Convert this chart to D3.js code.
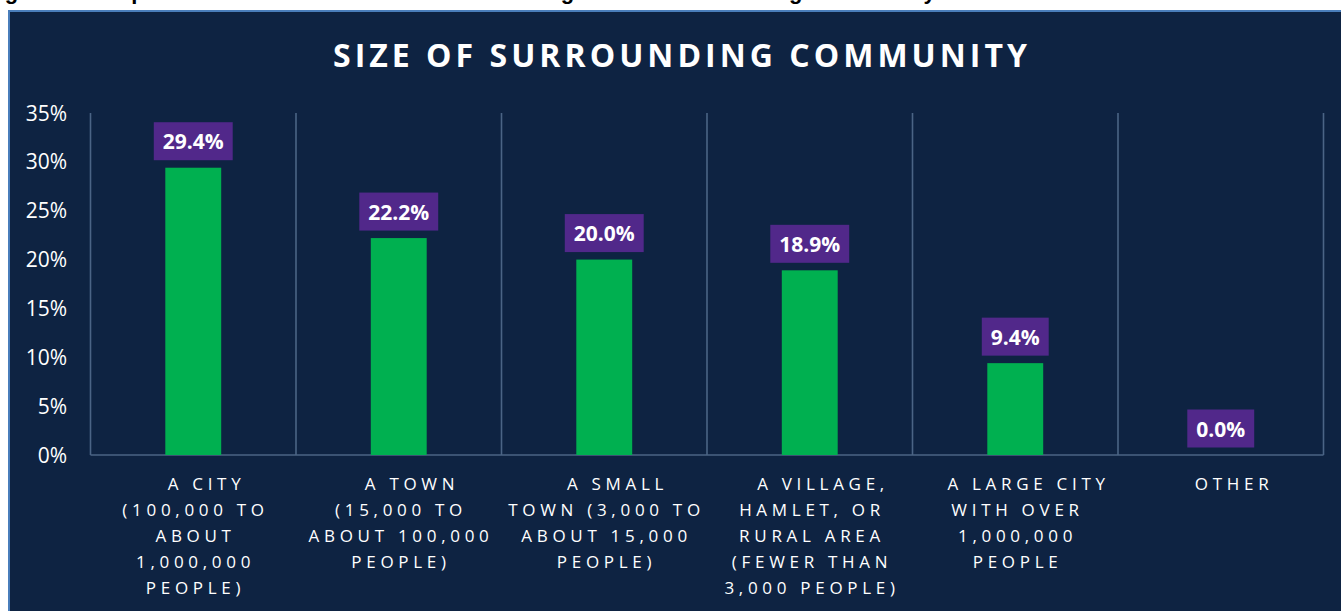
<!DOCTYPE html>
<head>
  <meta charset="utf-8">
  <script src="https://d3js.org/d3.v7.min.js"></script>
  <style>
    body { margin: 0; background: #ffffff; }
    svg { display: block; }
    .tick-label { fill: #ffffff; font: 21px "Open Sans", sans-serif; }
    .cat-label { fill: #ffffff; font: 17px "Open Sans", sans-serif; letter-spacing: 4.7px; }
    .value-label { fill: #ffffff; font: bold 21px "Open Sans", sans-serif; }
  </style>
</head>
<body>
<script>
  // data
  var categories = ["A City", "A Town", "A Small Town", "A Village", "A Large City", "Other"];
  var labelLines = [
    ["A CITY", "(100,000 TO", "ABOUT", "1,000,000", "PEOPLE)"],
    ["A TOWN", "(15,000 TO", "ABOUT 100,000", "PEOPLE)"],
    ["A SMALL", "TOWN (3,000 TO", "ABOUT 15,000", "PEOPLE)"],
    ["A VILLAGE,", "HAMLET, OR", "RURAL AREA", "(FEWER THAN", "3,000 PEOPLE)"],
    ["A LARGE CITY", "WITH OVER", "1,000,000", "PEOPLE"],
    ["OTHER"]
  ];
  var values = [29.4, 22.2, 20.0, 18.9, 9.4, 0.0];
  var yTicks = [0, 5, 10, 15, 20, 25, 30, 35];

  var W = 1341, H = 611;
  var plot = { left: 90.5, right: 1323.5, top: 113, bottom: 455 };

  var svg = d3.select("body").append("svg")
      .attr("width", W)
      .attr("height", H);

  // caption above the panel, cut off by the top edge as in the picture
  svg.append("text")
      .attr("x", -16)
      .attr("y", -1.5)
      .style("font", "bold 22px 'Liberation Sans', Arial, sans-serif")
      .style("letter-spacing", "0.6px")
      .attr("fill", "#000")
      .text("Figure 3: Responses on the Size of the Town or Village of the Surrounding Community");

  // navy panel
  svg.append("rect")
      .attr("x", 9)
      .attr("y", 11)
      .attr("width", W + 20)
      .attr("height", H + 20)
      .attr("fill", "#0E2342")
      .attr("stroke", "#4A7EBB")
      .attr("stroke-width", 2);

  // title, spread to the width it has in the picture
  var title = svg.append("text")
      .attr("x", 680)
      .attr("y", 67)
      .attr("text-anchor", "middle")
      .attr("fill", "#ffffff")
      .style("font", "bold 32px 'Open Sans', sans-serif")
      .text("SIZE OF SURROUNDING COMMUNITY");
  var natural = title.node().getComputedTextLength();
  var nChars = title.text().length;
  var ls = (694 - natural) / (nChars - 1);
  title.style("letter-spacing", ls + "px").attr("dx", ls / 2);

  var x = d3.scaleBand()
      .domain(categories)
      .range([plot.left, plot.right])
      .padding(0);

  var y = d3.scaleLinear()
      .domain([0, 35])
      .range([plot.bottom, plot.top]);

  var gridColor = "#4B6485";

  // vertical separators between categories
  var bounds = categories.map(function(c) { return x(c); }).concat([plot.right]);
  svg.append("g").selectAll("line")
      .data(bounds)
    .enter().append("line")
      .attr("x1", function(d) { return d; })
      .attr("x2", function(d) { return d; })
      .attr("y1", plot.top)
      .attr("y2", plot.bottom)
      .attr("stroke", gridColor)
      .attr("stroke-width", 1.6);

  // baseline
  svg.append("line")
      .attr("x1", plot.left)
      .attr("x2", plot.right)
      .attr("y1", y(0))
      .attr("y2", y(0))
      .attr("stroke", gridColor)
      .attr("stroke-width", 1.6);

  // y tick labels
  svg.append("g").selectAll("text")
      .data(yTicks)
    .enter().append("text")
      .attr("class", "tick-label")
      .attr("x", 67)
      .attr("y", function(d) { return y(d); })
      .attr("dy", "0.36em")
      .attr("text-anchor", "end")
      .text(function(d) { return d + "%"; });

  // bars
  var barW = x.bandwidth() * 0.272;
  svg.append("g").selectAll("rect")
      .data(values)
    .enter().append("rect")
      .attr("x", function(d, i) { return x(categories[i]) + x.bandwidth() / 2 - barW / 2; })
      .attr("y", function(d) { return y(d); })
      .attr("width", barW)
      .attr("height", function(d) { return y(0) - y(d); })
      .attr("fill", "#00B050");

  // value labels in purple boxes
  var fmt = d3.format(".1f");
  var lab = svg.append("g").selectAll("g")
      .data(values)
    .enter().append("g");
  lab.each(function(d, i) {
    var g = d3.select(this);
    var cx = x(categories[i]) + x.bandwidth() / 2;
    var bottom = y(d) - 7.5;
    var box = g.append("rect");
    var t = g.append("text")
        .attr("class", "value-label")
        .attr("x", cx)
        .attr("y", bottom - 11)
        .attr("text-anchor", "middle")
        .text(fmt(d) + "%");
    var tw = t.node().getComputedTextLength();
    box.attr("x", cx - tw / 2 - 9)
       .attr("y", bottom - 38)
       .attr("width", tw + 18)
       .attr("height", 38)
       .attr("fill", "#51288A");
  });

  // category labels
  var cat = svg.append("g").selectAll("text")
      .data(labelLines)
    .enter().append("text")
      .attr("class", "cat-label")
      .attr("text-anchor", "middle");
  cat.each(function(lines, i) {
    var t = d3.select(this);
    var cx = x(categories[i]) + x.bandwidth() / 2 + 2.3;
    lines.forEach(function(line, j) {
      t.append("tspan")
        .attr("x", j === 0 ? cx + 11 : cx)
        .attr("y", 490 + j * 26)
        .text(line);
    });
  });
</script>
</body>
